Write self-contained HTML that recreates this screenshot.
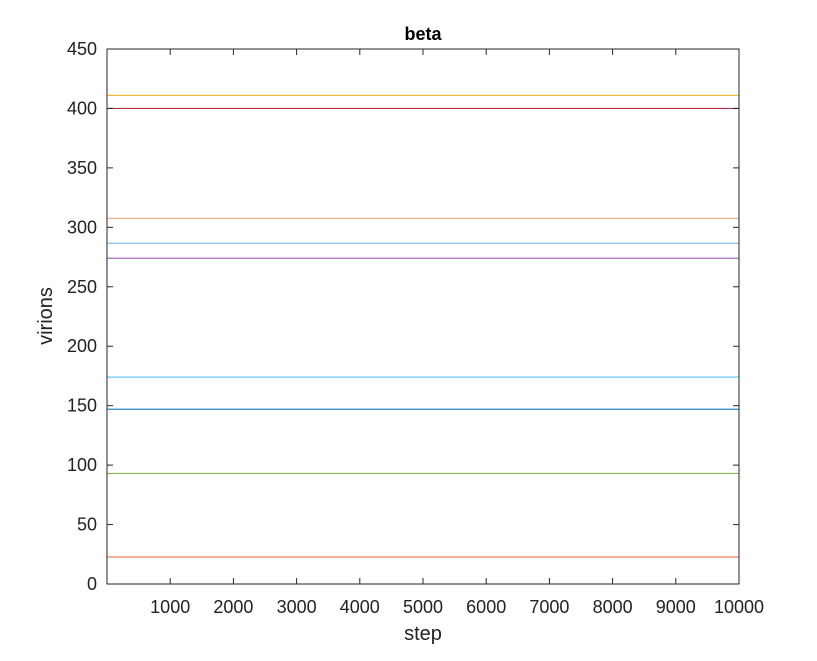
<!DOCTYPE html>
<html><head><meta charset="utf-8"><style>
body{margin:0;background:#fff;font-family:"Liberation Sans",sans-serif}
</style></head><body>
<svg width="817" height="656" font-family="Liberation Sans, sans-serif">
<rect width="817" height="656" fill="#fff"/>
<g id="lines"></g>
<g id="axes"></g>
<text x="423" y="40" text-anchor="middle" font-size="18" font-weight="bold" fill="#000">beta</text>
<text x="423" y="640" text-anchor="middle" font-size="20" fill="#222">step</text>
<text transform="translate(52,316) rotate(-90)" text-anchor="middle" font-size="20" fill="#222">virions</text>
</svg>
<script>
const seriesValues=[411,400,307.6,286.6,274,174,147,93,22.7];
const seriesColors=["#EDB120","#A2142F","#EE9A70","#6FAEDF","#9B59B0","#4DBEEE","#0072BD","#77AC30","#E8703A"];
const xTicks=[1000,2000,3000,4000,5000,6000,7000,8000,9000,10000];
const yTicks=[0,50,100,150,200,250,300,350,400,450];
const xDomain=[0,10000], yDomain=[0,450];
const X0=107,X1=739,Y0=584,Y1=49;
const sx=v=>X0+(v-xDomain[0])/(xDomain[1]-xDomain[0])*(X1-X0);
const sy=v=>Y0-(v-yDomain[0])/(yDomain[1]-yDomain[0])*(Y0-Y1);
const NS="http://www.w3.org/2000/svg";
const lines=document.getElementById('lines'),axes=document.getElementById('axes');
function mk(t,a,p){const e=document.createElementNS(NS,t);for(const k in a)e.setAttribute(k,a[k]);p.appendChild(e);return e;}
seriesValues.forEach((v,i)=>{
 const l=mk('line',{x1:sx(xDomain[0]),x2:sx(xDomain[1]),y1:sy(v),y2:sy(v),stroke:seriesColors[i],'stroke-width':1.2,opacity:0.85},lines);
 
 
});
const box=mk('rect',{x:X0,y:Y1,width:X1-X0,height:Y0-Y1,fill:'none',stroke:'#262626','stroke-width':1},axes);


xTicks.forEach(t=>{
 const x=sx(t);
 mk('line',{x1:x,x2:x,y1:Y0,y2:Y0-6,stroke:'#262626'},axes);
 mk('line',{x1:x,x2:x,y1:Y1,y2:Y1+6,stroke:'#262626'},axes);
 const tx=mk('text',{x:x,y:613,'text-anchor':'middle','font-size':18,fill:'#222'},axes);
 tx.textContent=t;
 
 
});
yTicks.forEach(t=>{
 const y=sy(t);
 mk('line',{x1:X0,x2:X0+6,y1:y,y2:y,stroke:'#262626'},axes);
 mk('line',{x1:X1,x2:X1-6,y1:y,y2:y,stroke:'#262626'},axes);
 const tx=mk('text',{x:97,y:y+6,'text-anchor':'end','font-size':18,fill:'#222'},axes);
 tx.textContent=t;
 
 
});
</script>
</body></html>
